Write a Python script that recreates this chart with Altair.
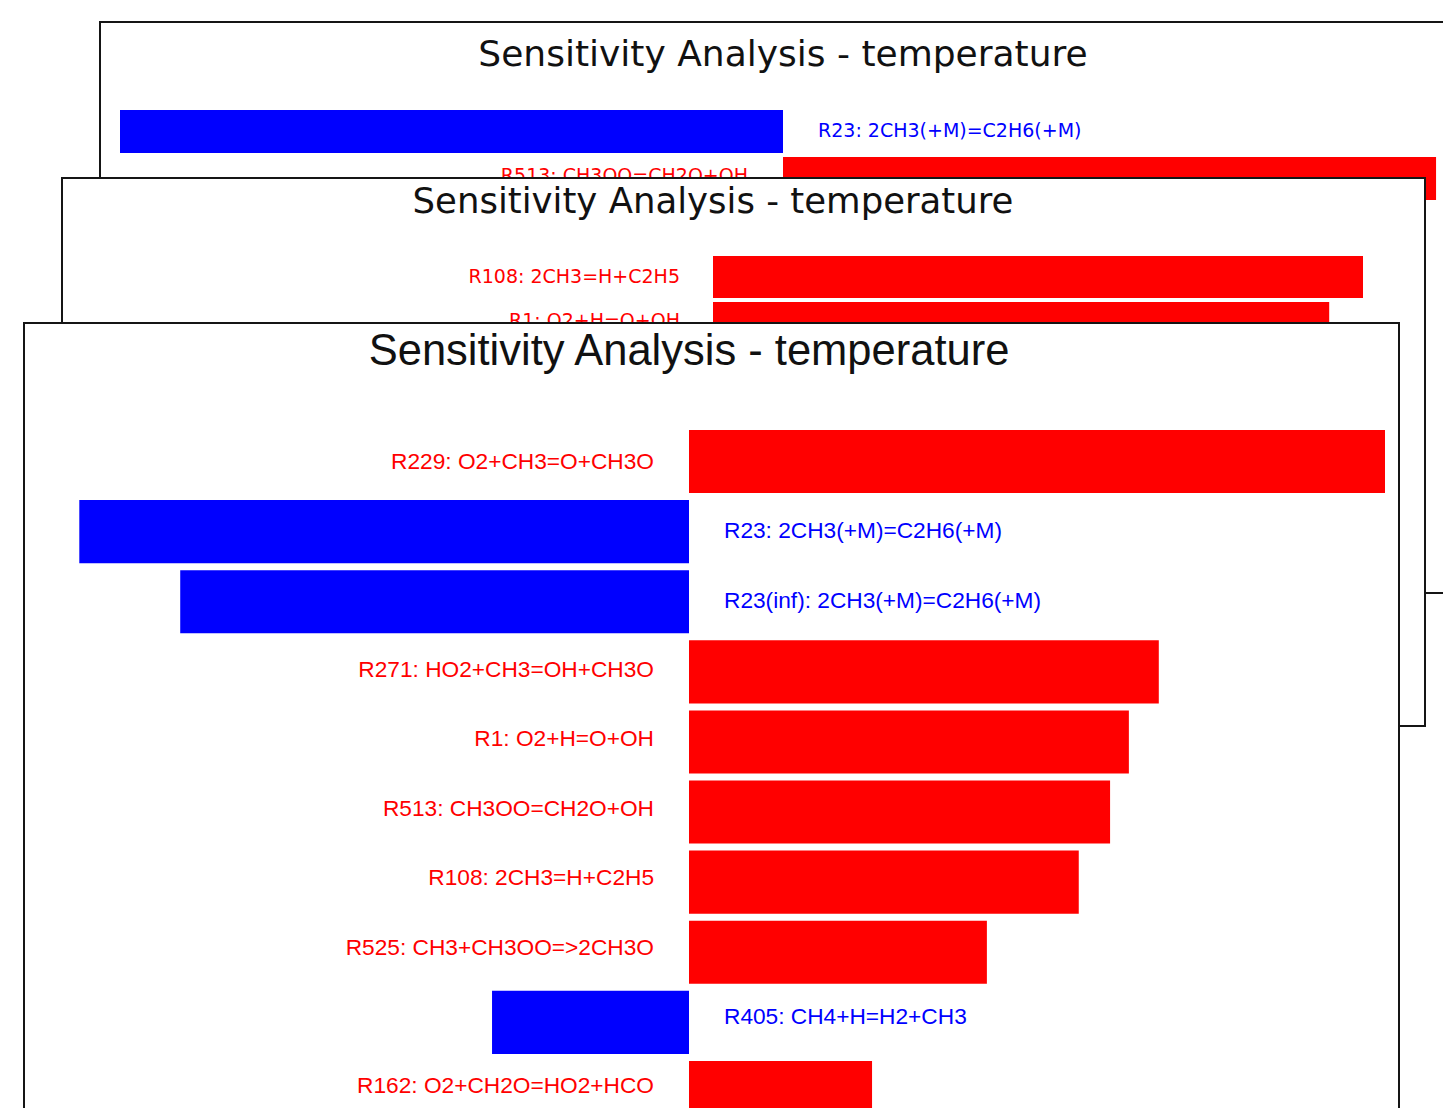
import altair as alt
import pandas as pd

TITLE = "Sensitivity Analysis - temperature"

# Back panel (partially hidden)
back_labels = ["R23: 2CH3(+M)=C2H6(+M)", "R513: CH3OO=CH2O+OH"]
back_values = [-1.0, 0.985]

# Middle panel (partially hidden)
middle_labels = ["R108: 2CH3=H+C2H5", "R1: O2+H=O+OH"]
middle_values = [1.0, 0.948]

# Front panel
front_labels = [
    "R229: O2+CH3=O+CH3O",
    "R23: 2CH3(+M)=C2H6(+M)",
    "R23(inf): 2CH3(+M)=C2H6(+M)",
    "R271: HO2+CH3=OH+CH3O",
    "R1: O2+H=O+OH",
    "R513: CH3OO=CH2O+OH",
    "R108: 2CH3=H+C2H5",
    "R525: CH3+CH3OO=>2CH3O",
    "R405: CH4+H=H2+CH3",
    "R162: O2+CH2O=HO2+HCO",
]
front_values = [1.0, -0.876, -0.731, 0.675, 0.632, 0.605, 0.560, 0.428, -0.283, 0.263]


def panel(labels, values, frame, xrange, yrange, pad_inner, title_y,
          title_font, title_size, label_font, label_size, label_dx, label_dy):
    df = pd.DataFrame({"label": labels, "value": values})

    def xs():
        return alt.Scale(domain=[0, 1], range=xrange, zero=False, nice=False)

    def ys():
        return alt.Scale(domain=labels, range=yrange, paddingInner=pad_inner, paddingOuter=0)

    x0, x1, y0, y1 = frame
    one = pd.DataFrame({"k": [1]})
    box = alt.Chart(one).mark_rect(fill="white", stroke="#151515", strokeWidth=2).encode(
        x=alt.value(x0), x2=alt.value(x1), y=alt.value(y0), y2=alt.value(y1)
    )
    base = alt.Chart(df)
    color = alt.condition(alt.datum.value > 0, alt.value("#ff0000"), alt.value("#0000ff"))
    bars = base.mark_bar().encode(
        x=alt.X("value:Q", scale=xs(), axis=None),
        x2=alt.X2(datum=0),
        y=alt.Y("label:N", scale=ys(), axis=None, sort=None),
        color=color,
    )
    pos = base.transform_filter("datum.value > 0").mark_text(
        align="right", baseline="middle", dx=-label_dx, dy=label_dy, font=label_font,
        fontSize=label_size, color="#ff0000"
    ).encode(
        x=alt.X(datum=0, scale=xs(), axis=None),
        y=alt.Y("label:N", scale=ys(), axis=None, sort=None),
        text="label:N",
    )
    neg = base.transform_filter("datum.value < 0").mark_text(
        align="left", baseline="middle", dx=label_dx, dy=label_dy, font=label_font,
        fontSize=label_size, color="#0000ff"
    ).encode(
        x=alt.X(datum=0, scale=xs(), axis=None),
        y=alt.Y("label:N", scale=ys(), axis=None, sort=None),
        text="label:N",
    )
    title = alt.Chart(one).mark_text(
        text=TITLE, font=title_font, fontSize=title_size, align="center",
        baseline="middle", color="#111111"
    ).encode(x=alt.X(datum=0, scale=xs(), axis=None), y=alt.value(title_y))
    return [box, title, bars, pos, neg]


layers = []
layers += panel(back_labels, back_values,
                frame=(92, 1500, 14, 585), xrange=[775, 1438], yrange=[102, 192],
                pad_inner=0.085, title_y=47, title_font="DejaVu Sans", title_size=36,
                label_font="DejaVu Sans", label_size=19, label_dx=35, label_dy=-2)
layers += panel(middle_labels, middle_values,
                frame=(54, 1417, 170, 718), xrange=[705, 1355], yrange=[248, 336],
                pad_inner=0.087, title_y=194, title_font="DejaVu Sans", title_size=35.5,
                label_font="DejaVu Sans", label_size=19, label_dx=33, label_dy=-1)
layers += panel(front_labels, front_values,
                frame=(16, 1391, 315, 1300), xrange=[681, 1377], yrange=[422, 1116],
                pad_inner=0.1, title_y=344, title_font="Liberation Sans", title_size=43.5,
                label_font="Liberation Sans", label_size=22.7, label_dx=35, label_dy=-3)

chart = alt.layer(*layers).resolve_scale(
    x="independent", y="independent"
).properties(
    width=1435, height=1100, autosize=alt.AutoSizeParams(type="none"), padding=0
).configure_view(stroke=None)

chart.save("out.html", embed_options={"renderer": "svg", "actions": False})
